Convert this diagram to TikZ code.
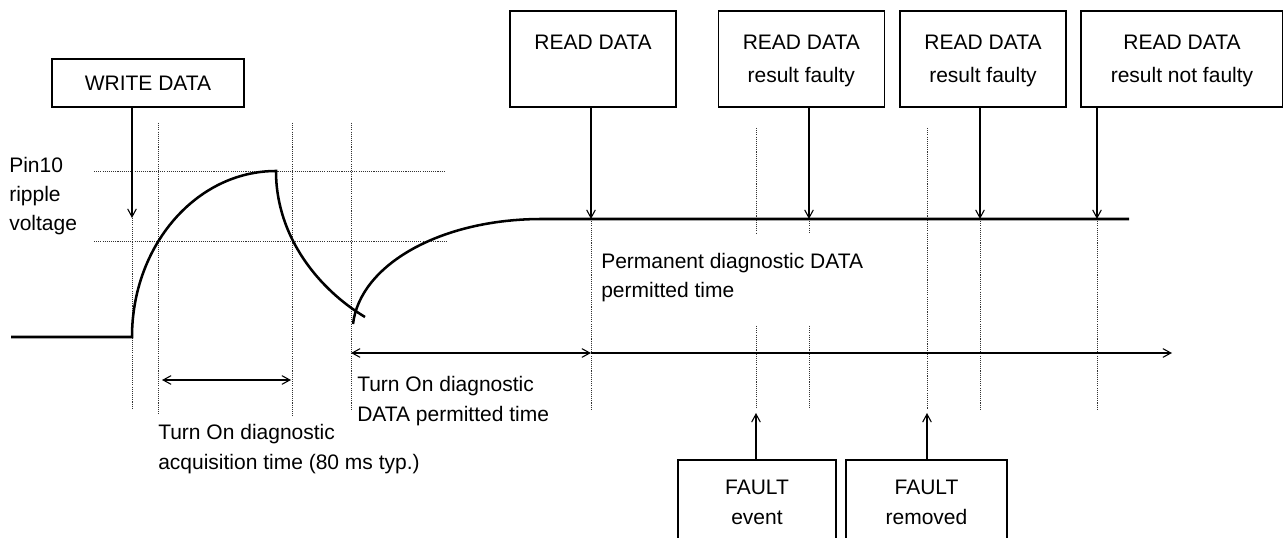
\documentclass[tikz,border=0pt]{standalone}
\usepackage{fontspec}
\setmainfont{Liberation Sans}
\usetikzlibrary{arrows.meta}
\newcommand\twoline[2]{\begin{tabular}{@{}c@{}}#1\\#2\end{tabular}}
\newcommand\lbltext[1]{\begin{tabular}[t]{@{}l@{}}#1\end{tabular}}
\begin{document}
\begin{tikzpicture}[x=0.75pt,y=-0.75pt,
  box/.style={draw, line width=0.9pt, inner sep=0pt, align=center, font=\fontsize{15.75}{24.75}\selectfont},
  fbox/.style={box, font=\fontsize{15.75}{22.5}\selectfont},
  tip/.tip={Straight Barb[length=6pt,width=6.5pt,line width=0.8pt]},
  conn/.style={line width=0.8pt, -tip},
  dim/.style={line width=0.8pt, tip-tip},
  grid/.style={line width=0.6pt, dash pattern=on 0.8pt off 0.8pt, black!80},
  sig/.style={line width=1.9pt},
  lbl/.style={inner sep=0pt, anchor=base west}]
\clip (0,0) rectangle (1283,538);

% boxes (sizes: px * 0.75pt)
\node[box, minimum width=144pt, minimum height=36pt] (wd) at (148,83) {WRITE DATA};
\node[box, minimum width=124.5pt, minimum height=72pt] (r1) at (593,59) {\twoline{READ DATA}{\phantom{result faulty}}};
\node[box, minimum width=124.5pt, minimum height=72pt] (r2) at (801.3,59) {\twoline{READ DATA}{result faulty}};
\node[box, minimum width=124.5pt, minimum height=72pt] (r3) at (983,59) {\twoline{READ DATA}{result faulty}};
\node[box, minimum width=151.5pt, minimum height=72pt] (r4) at (1182,59) {\twoline{READ DATA}{result not faulty}};
\node[fbox, minimum width=118.5pt, minimum height=64.5pt] (f1) at (757,503) {\twoline{FAULT}{event}};
\node[fbox, minimum width=120.75pt, minimum height=64.5pt] (f2) at (926.5,503) {\twoline{FAULT}{removed}};

% labels
\node[lbl, font=\fontsize{15.75}{21.4}\selectfont] (pin) at (9,173) {\lbltext{Pin10\\ripple\\voltage}};
\node[lbl, font=\fontsize{15.75}{22}\selectfont] (acq) at (158,440) {\lbltext{Turn On diagnostic\\acquisition time (80 ms typ.)}};
\node[lbl, font=\fontsize{15.75}{22.5}\selectfont] (ton) at (357,392) {\lbltext{Turn On diagnostic\\DATA permitted time}};
\node[lbl, font=\fontsize{15.75}{21.5}\selectfont] (perm) at (601,269) {\lbltext{Permanent diagnostic DATA\\permitted time}};

% dotted grid
\draw[grid] (94,171) -- (445,171);
\draw[grid] (94,241) -- (447,241);
\draw[grid] (132,218) -- (132,409);
\draw[grid] (158,123) -- (158,415);
\draw[grid] (292,123) -- (292,417);
\draw[grid] (351,123) -- (351,409);
\draw[grid] (591,219) -- (591,409);
\draw[grid] (756,128) -- (756,233);
\draw[grid] (756,326) -- (756,409);
\draw[grid] (809,219) -- (809,233);
\draw[grid] (809,326) -- (809,409);
\draw[grid] (927,128) -- (927,409);
\draw[grid] (980,219) -- (980,409);
\draw[grid] (1097,219) -- (1097,409);

% signal
\draw[sig] (11,337) -- (132,337) .. controls (132,245.3) and (196.5,171) .. (276,171)
  .. controls (276,238) and (320,290) .. (365,317);
\draw[sig] (353,324) .. controls (360,265) and (440,219) .. (542,219) -- (1129,219);

% target coordinates
\coordinate (w1) at (132,218);
\coordinate (p1) at (591,219);
\coordinate (p2) at (809,219);
\coordinate (p3) at (980,219);
\coordinate (p4) at (1097,219);
\coordinate (q1) at (756,413);
\coordinate (q2) at (927,413);
\coordinate (a1) at (162,380);
\coordinate (a2) at (291,380);
\coordinate (t1) at (351,353);
\coordinate (t2) at (591,353);
\coordinate (t3) at (1172,353);

% connectors
\draw[conn] (wd.south -| w1) -- (w1);
\draw[conn] (r1.south -| p1) -- (p1);
\draw[conn] (r2.south -| p2) -- (p2);
\draw[conn] (r3.south -| p3) -- (p3);
\draw[conn] (r4.south -| p4) -- (p4);
\draw[conn] (f1.north -| q1) -- (q1);
\draw[conn] (f2.north -| q2) -- (q2);
\draw[dim] (a1) -- (a2);
\draw[dim] (t1) -- (t2);
\draw[conn] (t2) -- (t3);
\end{tikzpicture}
\end{document}
